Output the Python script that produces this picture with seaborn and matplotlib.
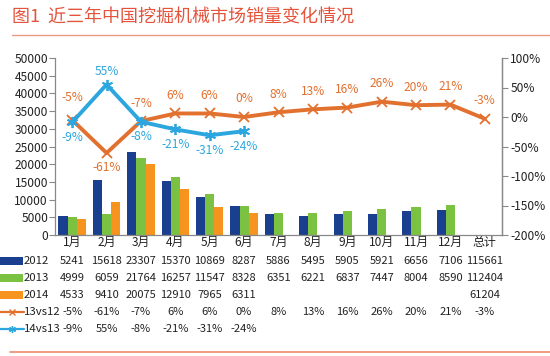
import numpy as np
import pandas as pd
import matplotlib
matplotlib.use("Agg")
import matplotlib.pyplot as plt
import matplotlib.transforms as mtransforms
from matplotlib.lines import Line2D
from matplotlib.patches import Rectangle
import seaborn as sns

# ---------------- data ----------------
categories = ["1月", "2月", "3月", "4月", "5月", "6月", "7月", "8月", "9月",
              "10月", "11月", "12月", "总计"]
years = ["2012", "2013", "2014"]
sales_2012 = [5241, 15618, 23307, 15370, 10869, 8287, 5886, 5495, 5905, 5921, 6656, 7106]
sales_2013 = [4999, 6059, 21764, 16257, 11547, 8328, 6351, 6221, 6837, 7447, 8004, 8590]
sales_2014 = [4533, 9410, 20075, 12910, 7965, 6311]
totals = [115661, 112404, 61204]
yoy_13vs12 = [-5, -61, -7, 6, 6, 0, 8, 13, 16, 26, 20, 21, -3]
yoy_14vs13 = [-9, 55, -8, -21, -31, -24]
left_ticks = [0, 5000, 10000, 15000, 20000, 25000, 30000, 35000, 40000, 45000, 50000]
right_ticks = [-200, -150, -100, -50, 0, 50, 100]
title = "图1  近三年中国挖掘机械市场销量变化情况"

# ---------------- style ----------------
sns.set_theme(style="white")
plt.rcParams["font.family"] = ["Noto Sans CJK SC", "DejaVu Sans"]

c2012, c2013, c2014 = "#1B3F8F", "#7CC242", "#F7941E"
c_l1, c_l2 = "#E2702F", "#2CA6DE"
title_col = "#E5533C"
fs = 8
fs_tick = 8.6
fs_lab = 8.6
fs_row = 8.2

W, H = 550, 356
fig = plt.figure(figsize=(W / 100, H / 100), dpi=100)
fig.patch.set_facecolor("white")

def fx(px):
    return px / W

def fy(py):
    return 1 - py / H

ax = fig.add_axes([fx(55), fy(235), fx(502) - fx(55), fy(58) - fy(235)])

rows = []
for yr, vals in zip(years, [sales_2012, sales_2013, sales_2014]):
    for m, v in zip(categories, vals):
        rows.append({"month": m, "year": yr, "sales": v})
df = pd.DataFrame(rows)

sns.barplot(data=df, x="month", y="sales", hue="year", order=categories,
            hue_order=years, palette=[c2012, c2013, c2014], width=0.8,
            saturation=1, ax=ax, legend=False, linewidth=0)

ax.set_xlim(-0.5, len(categories) - 0.5)
ax.set_ylim(0, 50000)
ax.set_yticks(left_ticks)
ax.set_yticklabels([str(t) for t in left_ticks], fontsize=fs_tick, color="#222222")
ax.set_xticks(range(len(categories)))
ax.set_xticklabels(categories, fontsize=fs_tick, color="#222222")
ax.tick_params(axis="x", length=0, pad=1)
ax.tick_params(axis="y", length=4, width=0.8, color="#888888", pad=1, left=True)
ax.set_xlabel("")
ax.set_ylabel("")
ax.spines["top"].set_visible(False)
for s in ["left", "bottom", "right"]:
    ax.spines[s].set_color("#888888")
    ax.spines[s].set_linewidth(0.9)
ax.set_facecolor("none")

ax2 = ax.twinx()
x1 = np.arange(len(yoy_13vs12), dtype=float)
x2 = np.arange(len(yoy_14vs13), dtype=float)
sns.lineplot(x=x1, y=yoy_13vs12, ax=ax2, color=c_l1, lw=2.8, marker="x",
             markersize=7, markeredgewidth=1.3, markeredgecolor=c_l1, zorder=3)
sns.lineplot(x=x2, y=yoy_14vs13, ax=ax2, color=c_l2, lw=2.8, marker=(6, 2, 0),
             markersize=8, markeredgewidth=1.3, markeredgecolor=c_l2, zorder=4)
ax2.set_xlim(-0.5, len(categories) - 0.5)
ax2.set_ylim(-200, 100)
ax2.set_yticks(right_ticks)
ax2.set_yticklabels([f"{t}%" for t in right_ticks], fontsize=fs_tick, color="#222222")
ax2.tick_params(axis="y", length=4, width=0.8, color="#888888", pad=2, right=True)
ax2.set_xlabel("")
ax2.set_ylabel("")
for s in ["top", "left", "bottom"]:
    ax2.spines[s].set_visible(False)
ax2.spines["right"].set_color("#888888")
ax2.spines["right"].set_linewidth(0.9)

# data labels
for i, v in enumerate(yoy_13vs12):
    dy = -15 if v < -30 else (22 if i == 0 else 18)
    ax2.annotate(f"{v}%", (i, v), xytext=(0, dy), textcoords="offset pixels",
                 ha="center", va="center", fontsize=fs_lab, color=c_l1)
for i, v in enumerate(yoy_14vs13):
    dy = 13 if v > 30 else -15
    ax2.annotate(f"{v}%", (i, v), xytext=(0, dy), textcoords="offset pixels",
                 ha="center", va="center", fontsize=fs_lab, color=c_l2)

# ---------------- data table ----------------
tr = mtransforms.blended_transform_factory(ax.transData, fig.transFigure)
row_y = [261, 278, 295, 312, 329]
series_vals = [
    [str(v) for v in sales_2012] + [str(totals[0])],
    [str(v) for v in sales_2013] + [str(totals[1])],
    [str(v) for v in sales_2014] + [""] * 6 + [str(totals[2])],
    [f"{v}%" for v in yoy_13vs12],
    [f"{v}%" for v in yoy_14vs13],
]
row_names = ["2012", "2013", "2014", "13vs12", "14vs13"]
for yv, vals in zip(row_y, series_vals):
    for i, t in enumerate(vals):
        if t:
            fig.text(i, fy(yv), t, transform=tr, ha="center", va="center",
                     fontsize=fs, color="#222222")

# row headers with legend keys
for yv, col in zip(row_y[:3], [c2012, c2013, c2014]):
    fig.add_artist(Rectangle((0, fy(yv + 4)), fx(23), fy(yv - 4) - fy(yv + 4),
                             transform=fig.transFigure, color=col, lw=0))
for yv, col, mk in zip(row_y[3:], [c_l1, c_l2], ["x", (6, 2, 0)]):
    fig.add_artist(Line2D([0, fx(24)], [fy(yv), fy(yv)], transform=fig.transFigure,
                          color=col, lw=1.6))
    fig.add_artist(Line2D([fx(12)], [fy(yv)], transform=fig.transFigure, color=col,
                          marker=mk, markersize=5, markeredgewidth=1, lw=0))
for yv, name in zip(row_y, row_names):
    fig.text(fx(24), fy(yv), name, ha="left", va="center", fontsize=fs_row,
             color="#222222")

# ---------------- title & rules ----------------
fig.text(fx(12), fy(18), title, ha="left", va="center", fontsize=13, color=title_col)
fig.add_artist(Line2D([fx(12), 1], [fy(35), fy(35)], transform=fig.transFigure,
                      color="#EC9A80", lw=1.0))
fig.add_artist(Line2D([fx(10), 1], [fy(352), fy(352)], transform=fig.transFigure,
                      color="#EC8A70", lw=1.2))

fig.savefig("out.png", dpi=100)
